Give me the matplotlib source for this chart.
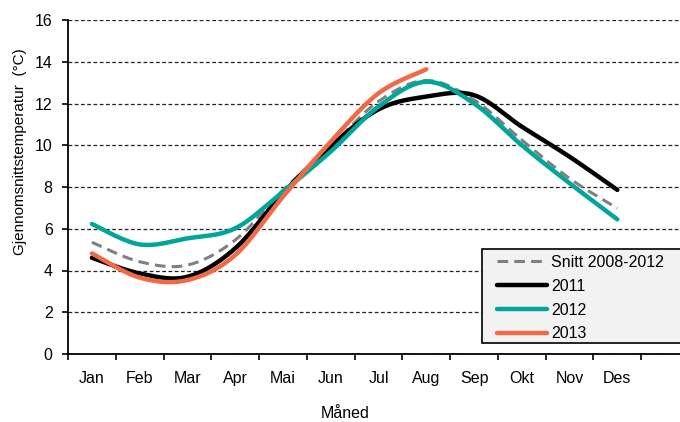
import numpy as np
import matplotlib
matplotlib.use("Agg")
import matplotlib.pyplot as plt
from matplotlib.patches import Rectangle

plt.rcParams['font.family'] = ['Liberation Sans', 'DejaVu Sans']

# --- data ---
months = ["Jan", "Feb", "Mar", "Apr", "Mai", "Jun", "Jul", "Aug", "Sep", "Okt", "Nov", "Des"]
snitt = [5.35, 4.42, 4.26, 5.46, 7.85, 9.95, 12.10, 13.10, 12.17, 10.25, 8.41, 6.98]
y2011 = [4.61, 3.86, 3.70, 5.06, 7.70, 9.95, 11.72, 12.33, 12.40, 10.89, 9.45, 7.86]
y2012 = [6.23, 5.25, 5.54, 6.02, 7.78, 9.70, 11.85, 13.04, 12.00, 10.00, 8.18, 6.45]
y2013 = [4.82, 3.66, 3.54, 4.74, 7.54, 10.17, 12.49, 13.64]


def smooth(x, y, n=30):
    # Catmull-Rom spline through the points (like Excel's smoothed line)
    x = np.asarray(x, float)
    y = np.asarray(y, float)
    px = np.concatenate([[x[0]], x, [x[-1]]])
    py = np.concatenate([[y[0]], y, [y[-1]]])
    xs, ys = [], []
    t = np.linspace(0, 1, n)
    for i in range(1, len(px) - 2):
        for p, out in ((px, xs), (py, ys)):
            p0, p1, p2, p3 = p[i - 1], p[i], p[i + 1], p[i + 2]
            out.append(0.5 * (2 * p1 + (-p0 + p2) * t
                              + (2 * p0 - 5 * p1 + 4 * p2 - p3) * t ** 2
                              + (-p0 + 3 * p1 - 3 * p2 + p3) * t ** 3))
    return np.concatenate(xs), np.concatenate(ys)


fig = plt.figure(figsize=(6.8, 4.22), dpi=100)
ax = fig.add_axes([68 / 680, 68 / 422, (689 - 68) / 680, (354 - 20) / 422])

xc = np.arange(len(months)) + 0.5
fs = 11.5

series = [
    ("Snitt 2008-2012", snitt, dict(color="#808080", lw=2.2, ls=(0, (3.5, 2)))),
    ("2011", y2011, dict(color="black", lw=3.2)),
    ("2012", y2012, dict(color="#00A69A", lw=3.2)),
    ("2013", y2013, dict(color="#F26A45", lw=3.2)),
]
for label, vals, st in series:
    sx, sy = smooth(xc[:len(vals)], vals)
    ax.plot(sx, sy, label=label, solid_capstyle="round", dash_capstyle="butt", **st)

ax.set_xlim(0, 13)
ax.set_ylim(0, 16)
ax.set_yticks(np.arange(0, 17, 2))
ax.set_xticks(np.arange(0, 14))
ax.set_xticklabels([])
ax.set_xticks(xc, minor=True)
ax.set_xticklabels(months, minor=True)
ax.tick_params(axis="x", which="minor", length=0, pad=12, labelsize=fs)
ax.tick_params(axis="x", which="major", length=4, width=1.2, direction="out")
ax.tick_params(axis="y", length=4, width=1.2, direction="out", labelsize=fs, pad=7)

ax.yaxis.grid(True, linestyle=(0, (3, 2)), color="#222222", lw=0.9)
ax.set_axisbelow(True)
for s in ("top", "right"):
    ax.spines[s].set_visible(False)
for s in ("left", "bottom"):
    ax.spines[s].set_linewidth(1.3)

fig.text(345 / 680, 1 - 413 / 422, "Måned", ha="center", va="center", fontsize=fs)
fig.text(20 / 680, 1 - 152 / 422, "Gjennomsnittstemperatur  (°C)", rotation=90,
         ha="center", va="center", fontsize=11)

# legend box (its right edge runs off the picture, as in the original)
box = Rectangle((482 / 680, 1 - 343 / 422), 220 / 680, 94 / 422, transform=fig.transFigure,
                facecolor="#F2F2F2", edgecolor="black", lw=1.2, clip_on=False, zorder=4)
ax.add_patch(box)
leg = ax.legend(loc="upper left", bbox_to_anchor=(497 / 680, 1 - 255 / 422),
                bbox_transform=fig.transFigure, fontsize=fs, frameon=False,
                handlelength=3.1, handletextpad=0.3, labelspacing=0.55,
                borderpad=0, borderaxespad=0)
leg.set_zorder(5)

fig.savefig("out.png", dpi=100)
